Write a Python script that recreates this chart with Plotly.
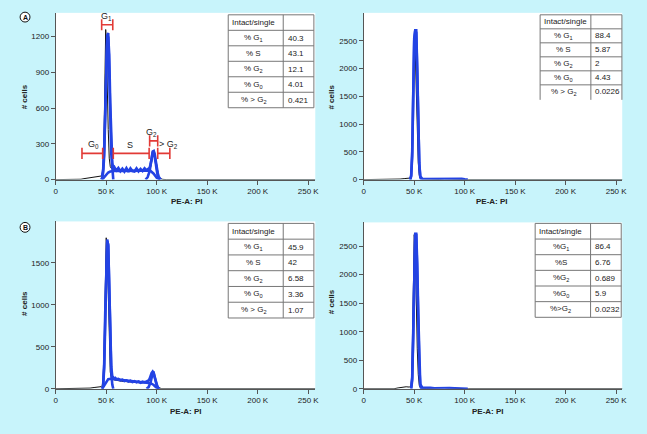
import plotly.graph_objects as go

W, H = 647, 434

# ---------------- data (x in thousands of PE-A: PI units) ----------------
x_tick_vals = [0, 50, 100, 150, 200, 250]
x_tick_text = ["0", "50 K", "100 K", "150 K", "200 K", "250 K"]

# Panel A (top-left)
a_raw_x = [0, 22, 25, 28, 31, 34, 37, 40, 43, 45, 46, 47, 48, 49, 49.5, 50, 50.5, 51, 52, 53,
           54, 55, 56, 58, 60, 63, 66, 69, 72, 75, 78, 81, 84, 87, 90, 92, 94, 95, 96, 97,
           98, 99, 100, 101, 102, 104, 106, 110, 257]
a_raw_y = [0, 0, 3, 8, 12, 15, 20, 24, 28, 30, 45, 120, 450, 1020, 1260, 1180, 1000, 760, 420, 180,
           110, 95, 90, 85, 80, 78, 75, 73, 76, 72, 74, 70, 75, 78, 82, 90, 110, 150, 210, 240,
           220, 170, 110, 60, 25, 8, 2, 0, 0]
a_g1_x = [45, 46, 47, 48, 49, 50, 51, 52, 53, 54, 55, 56, 57]
a_g1_y = [0, 15, 60, 200, 520, 950, 1210, 1230, 980, 560, 220, 60, 0]
a_fit_x = [46, 47, 48, 49, 50, 51, 52, 53, 54, 55, 56, 57, 58, 59, 60,
           62, 64, 66, 68, 70, 72, 74, 76, 78, 80, 82, 84, 86, 88, 90,
           92, 93, 94, 95, 96, 97, 98, 99, 100, 101, 102, 103, 104]
a_fit_y = [30, 90, 260, 600, 1000, 1180, 1200, 1050, 640, 300, 140, 95, 105, 90, 78,
           98, 70, 92, 68, 96, 66, 95, 72, 68, 94, 70, 90, 72, 95, 78,
           90, 100, 130, 180, 225, 240, 215, 160, 100, 55, 25, 8, 0]
a_s_x = [46, 48, 50, 52, 54, 56, 60, 65, 70, 75, 80, 85, 90, 94, 97, 100, 103]
a_s_y = [0, 20, 45, 60, 68, 72, 74, 73, 72, 73, 74, 75, 76, 72, 50, 15, 0]
a_g2_x = [89, 91, 93, 94, 95, 96, 97, 98, 99, 100, 101, 103]
a_g2_y = [0, 20, 70, 130, 190, 235, 240, 200, 140, 80, 30, 0]

# Gates drawn on panel A
gate_labels = ["G<sub>0</sub>", "S", "G<sub>2</sub>", "> G<sub>2</sub>", "G<sub>1</sub>"]
gate_x0 = [26, 57, 93, 101, 45.5]
gate_x1 = [46.5, 92.5, 101, 113, 56.5]
gate_y = [220, 220, 325, 220, 1300]
gate_label_x = [37, 74, 95, 112, 50.5]

# Panel B (top-right)
b_raw_x = [0, 32, 36, 40, 44, 46, 47, 48, 49, 50, 51, 52, 53, 54, 55, 56, 58, 62, 66, 70,
           75, 80, 85, 90, 95, 100, 104, 257]
b_raw_y = [0, 0, 10, 18, 22, 28, 60, 400, 1300, 2480, 2300, 1500, 800, 300, 80, 25, 12, 8, 12, 6,
           5, 10, 8, 18, 14, 6, 0, 0]
b_g1_x = [46, 47, 48, 49, 50, 51, 52, 53, 54, 55, 56, 57]
b_g1_y = [0, 60, 420, 1500, 2500, 2690, 2690, 2000, 950, 280, 40, 0]
b_fit_x = [46, 47, 48, 49, 50, 51, 52, 53, 54, 55, 56, 58, 60, 65, 70, 75, 80, 85, 88, 91,
           94, 97, 100, 103]
b_fit_y = [0, 80, 500, 1600, 2550, 2690, 2650, 1900, 900, 300, 60, 15, 10, 12, 8, 10, 12, 15, 20, 22,
           20, 15, 6, 0]

# Panel C (bottom-left)
c_raw_x = [0, 30, 34, 38, 42, 45, 46, 47, 48, 49, 50, 51, 52, 53, 54, 55, 56, 58, 60, 65,
           70, 75, 80, 85, 90, 93, 95, 96, 97, 98, 99, 100, 102, 105, 257]
c_raw_y = [0, 0, 8, 15, 20, 25, 40, 120, 500, 1200, 1800, 1650, 1100, 500, 200, 130, 115, 105, 100, 90,
           85, 78, 72, 70, 78, 100, 160, 195, 190, 150, 100, 50, 15, 0, 0]
c_g1_x = [46, 47, 48, 49, 50, 51, 52, 53, 54, 55, 56, 57]
c_g1_y = [0, 40, 250, 900, 1600, 1780, 1700, 1200, 600, 200, 50, 0]
c_fit_x = [47, 48, 49, 50, 51, 52, 53, 54, 55, 56, 57, 58, 59, 60,
           62, 64, 66, 68, 70, 72, 74, 76, 78, 80, 82, 84, 86, 88, 90, 92,
           93, 94, 95, 96, 97, 98, 99, 100, 101, 102]
c_fit_y = [60, 300, 900, 1550, 1760, 1720, 1250, 650, 260, 150, 130, 120, 128, 112,
           118, 100, 108, 92, 100, 85, 95, 80, 90, 76, 86, 72, 84, 78, 88, 100,
           120, 160, 190, 205, 185, 140, 90, 45, 15, 0]
c_s_x = [46, 48, 50, 52, 55, 60, 65, 70, 75, 80, 85, 90, 94, 97, 100, 103]
c_s_y = [0, 40, 90, 115, 120, 112, 104, 96, 88, 80, 74, 72, 66, 45, 12, 0]
c_g2_x = [90, 92, 94, 95, 96, 97, 98, 99, 100, 102]
c_g2_y = [0, 20, 80, 140, 185, 190, 150, 90, 40, 0]

# Panel D (bottom-right)
d_raw_x = [0, 30, 34, 38, 42, 45, 47, 48, 49, 50, 51, 52, 53, 54, 55, 56, 58, 62, 66, 70,
           75, 80, 85, 90, 95, 100, 104, 257]
d_raw_y = [0, 0, 15, 28, 35, 30, 45, 500, 2000, 2700, 2500, 1400, 700, 250, 60, 20, 10, 8, 12, 10,
           15, 18, 12, 10, 8, 12, 0, 0]
d_g1_x = [47, 48, 49, 50, 51, 52, 53, 54, 55, 56, 57]
d_g1_y = [0, 150, 900, 2100, 2714, 2714, 2200, 1300, 400, 60, 0]
d_fit_x = [47, 48, 49, 50, 51, 52, 53, 54, 55, 56, 58, 62, 66, 70, 75, 80, 85, 90, 95, 100, 103]
d_fit_y = [20, 200, 1000, 2200, 2714, 2700, 2100, 1250, 380, 80, 20, 12, 15, 10, 14, 16, 12, 10, 8, 10, 0]

# Tables
table_labels_std = ["Intact/single", "% G<sub>1</sub>", "% S", "% G<sub>2</sub>", "% G<sub>0</sub>", "% > G<sub>2</sub>"]
table_labels_d = ["Intact/single", "%G<sub>1</sub>", "%S", "%G<sub>2</sub>", "%G<sub>0</sub>", "%>G<sub>2</sub>"]
a_table_vals = ["", "40.3", "43.1", "12.1", "4.01", "0.421"]
b_table_vals = ["", "88.4", "5.87", "2", "4.43", "0.0226"]
c_table_vals = ["", "45.9", "42", "6.58", "3.36", "1.07"]
d_table_vals = ["", "86.4", "6.76", "0.689", "5.9", "0.0232"]

a_yticks = [0, 300, 600, 900, 1200]
b_yticks = [0, 500, 1000, 1500, 2000, 2500]
c_yticks = [0, 500, 1000, 1500]
d_yticks = [0, 500, 1000, 1500, 2000, 2500]

# ---------------- styling ----------------
BG = "#c8f4fb"
BLUE = "#2343e4"
RED = "#e23a36"
AXC = "#555555"
FONT = "Liberation Sans"
TXT = "#222222"


def px(x):
    return x / W


def py(y):
    return 1 - y / H


fig = go.Figure()

panels = [
    ("", (54.3, 316.7), (13, 181.7), 1400, a_yticks, (a_raw_x, a_raw_y),
     [(a_s_x, a_s_y), (a_g2_x, a_g2_y), (a_g1_x, a_g1_y), (a_fit_x, a_fit_y)]),
    ("2", (365.7, 627), (13, 181.7), 3005, b_yticks, (b_raw_x, b_raw_y),
     [(b_g1_x, b_g1_y), (b_fit_x, b_fit_y)]),
    ("3", (54.3, 316.7), (224, 393.3), 1995, c_yticks, (c_raw_x, c_raw_y),
     [(c_s_x, c_s_y), (c_g2_x, c_g2_y), (c_g1_x, c_g1_y), (c_fit_x, c_fit_y)]),
    ("4", (365.7, 627), (225, 393.3), 2915, d_yticks, (d_raw_x, d_raw_y),
     [(d_g1_x, d_g1_y), (d_fit_x, d_fit_y)]),
]

layout = {}
for suf, xd, yd, ymax, yt, raw, blues in panels:
    xa = "x" + suf
    ya = "y" + suf
    fig.add_trace(go.Scatter(x=raw[0], y=raw[1], mode="lines", xaxis=xa, yaxis=ya,
                             line=dict(color="#111111", width=1), showlegend=False,
                             hoverinfo="skip"))
    for bx, by in blues:
        fig.add_trace(go.Scatter(x=bx, y=by, mode="lines", xaxis=xa, yaxis=ya,
                                 line=dict(color=BLUE, width=2.6), showlegend=False,
                                 hoverinfo="skip"))
    xrange_max = 257 if xd[0] < 100 else 256
    layout["xaxis" + suf] = dict(
        domain=[px(xd[0]), px(xd[1])], anchor=ya, range=[0, xrange_max],
        tickvals=x_tick_vals, ticktext=x_tick_text, ticks="outside", ticklen=4,
        tickcolor=AXC, showline=True, linecolor=AXC, linewidth=1, showgrid=False,
        zeroline=False, tickfont=dict(family=FONT, size=8, color=TXT), fixedrange=True)
    layout["yaxis" + suf] = dict(
        domain=[py(yd[1]), py(yd[0])], anchor=xa, range=[0, ymax],
        tickvals=yt, ticks="outside", ticklen=4, tickcolor=AXC, showline=True,
        linecolor=AXC, linewidth=1, showgrid=False, zeroline=False,
        tickfont=dict(family=FONT, size=8, color=TXT), fixedrange=True)

# Gates on panel A
for lab, g0, g1, gy, lx in zip(gate_labels, gate_x0, gate_x1, gate_y, gate_label_x):
    fig.add_trace(go.Scatter(x=[g0, g1], y=[gy, gy], mode="lines+markers", xaxis="x", yaxis="y",
                             line=dict(color=RED, width=1.6),
                             marker=dict(symbol="line-ns-open", size=8,
                                         line=dict(color=RED, width=1.6)),
                             showlegend=False, hoverinfo="skip"))

annotations = []
shapes = []

for lab, gy, lx in zip(gate_labels, gate_y, gate_label_x):
    annotations.append(dict(x=lx, y=gy, xref="x", yref="y", text=lab, showarrow=False,
                            xanchor="center", yanchor="bottom", yshift=1,
                            font=dict(family=FONT, size=9, color=TXT)))

# Axis titles
for (cx, cy) in [(186.7, 204), (495, 204), (186, 416.5), (491, 416.5)]:
    annotations.append(dict(x=px(cx), y=py(cy), xref="paper", yref="paper", text="<b>PE-A: PI</b>",
                            showarrow=False, xanchor="center", yanchor="middle",
                            font=dict(family=FONT, size=8, color=TXT)))
for (cx, cy) in [(22.7, 98), (333.3, 98), (22.7, 307), (333.3, 305)]:
    annotations.append(dict(x=px(cx), y=py(cy), xref="paper", yref="paper", text="<b># cells</b>",
                            showarrow=False, textangle=-90, xanchor="center", yanchor="middle",
                            font=dict(family=FONT, size=8, color=TXT)))

# Panel letters
for letter, (cx, cy) in [("A", (23.3, 17.3)), ("B", (23.3, 230))]:
    r = 5
    shapes.append(dict(type="circle", xref="paper", yref="paper",
                       x0=px(cx - r), x1=px(cx + r), y0=py(cy + r), y1=py(cy - r),
                       line=dict(color="#111111", width=1), fillcolor="white"))
    annotations.append(dict(x=px(cx), y=py(cy), xref="paper", yref="paper", text="<b>" + letter + "</b>",
                            showarrow=False, xanchor="center", yanchor="middle",
                            font=dict(family=FONT, size=7, color="#111111")))


# Tables
def draw_table(x0, xm, x1, y0, y1, labels, vals, bottom=True, label_left=0):
    n = len(labels)
    rh = (y1 - y0) / n
    shapes.append(dict(type="rect", xref="paper", yref="paper", x0=px(x0), x1=px(x1),
                       y0=py(y1), y1=py(y0), line=dict(width=0), fillcolor="white", layer="above"))
    lc = "#777777"
    for i in range(n + 1):
        if i == n and not bottom:
            continue
        yy = y0 + i * rh
        shapes.append(dict(type="line", xref="paper", yref="paper", x0=px(x0), x1=px(x1),
                           y0=py(yy), y1=py(yy), line=dict(color=lc, width=1), layer="above"))
    for xx in (x0, xm, x1):
        shapes.append(dict(type="line", xref="paper", yref="paper", x0=px(xx), x1=px(xx),
                           y0=py(y1 + (0 if bottom else 1)), y1=py(y0),
                           line=dict(color=lc, width=1), layer="above"))
    for i, (lab, v) in enumerate(zip(labels, vals)):
        cy = y0 + (i + 0.5) * rh
        if i == 0:
            annotations.append(dict(x=px(x0 + 2), y=py(cy), xref="paper", yref="paper", text=lab,
                                    xanchor="left", yanchor="middle", showarrow=False,
                                    font=dict(family=FONT, size=8, color=TXT)))
        else:
            annotations.append(dict(x=px((x0 + xm) / 2 + label_left), y=py(cy), xref="paper",
                                    yref="paper", text=lab, xanchor="center", yanchor="middle",
                                    showarrow=False, font=dict(family=FONT, size=8, color=TXT)))
        if v:
            annotations.append(dict(x=px(xm + 2.5), y=py(cy), xref="paper", yref="paper", text=v,
                                    xanchor="left", yanchor="middle", showarrow=False,
                                    font=dict(family=FONT, size=8, color=TXT)))


draw_table(228.7, 284.3, 315.3, 15, 109, table_labels_std, a_table_vals, label_left=-2)
draw_table(544, 595.3, 626.7, 15, 100, table_labels_std, b_table_vals, bottom=False, label_left=-2)
draw_table(228.7, 284.3, 315.3, 226, 321.7, table_labels_std, c_table_vals, label_left=-2)
draw_table(539, 595, 626, 226, 321, table_labels_d, d_table_vals, label_left=-2)

fig.update_layout(
    width=W, height=H, margin=dict(l=0, r=0, t=0, b=0),
    paper_bgcolor=BG, plot_bgcolor="white", showlegend=False,
    annotations=annotations, shapes=shapes, **layout)

fig.write_html("out.html", config={"displayModeBar": False},
               post_script="document.body.style.margin='0';document.body.style.padding='0';"
                           "document.body.style.overflow='hidden';")
